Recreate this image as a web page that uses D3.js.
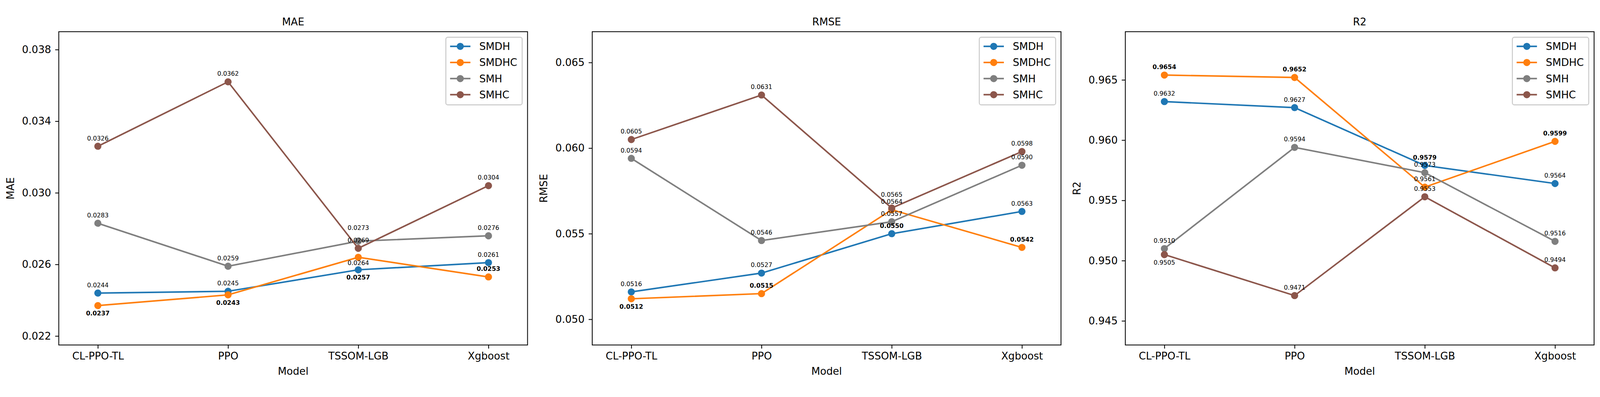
<!DOCTYPE html>
<html>
<head>
  <script src="https://d3js.org/d3.v7.min.js"></script>
  <style>
    html, body { margin: 0; padding: 0; background: #fff; overflow: hidden; }
    svg { display: block; width: 100vw; height: 100vh; }
    text { font-family: "DejaVu Sans", sans-serif; }
  </style>
</head>
<body>

<svg viewBox="0 0 4328 1017" preserveAspectRatio="xMidYMid meet"></svg>

<script>
  const models = ['CL-PPO-TL', 'PPO', 'TSSOM-LGB', 'Xgboost'];
  const seriesNames = ['SMDH', 'SMDHC', 'SMH', 'SMHC'];
  const colors = ['#1f77b4', '#ff7f0e', '#7f7f7f', '#8c564b'];

  // values per series (same order as seriesNames), per model
  const maeValues = [
    [0.0244, 0.0245, 0.0257, 0.0261],
    [0.0237, 0.0243, 0.0264, 0.0253],
    [0.0283, 0.0259, 0.0273, 0.0276],
    [0.0326, 0.0362, 0.0269, 0.0304]
  ];
  const rmseValues = [
    [0.0516, 0.0527, 0.0550, 0.0563],
    [0.0512, 0.0515, 0.0564, 0.0542],
    [0.0594, 0.0546, 0.0557, 0.0590],
    [0.0605, 0.0631, 0.0565, 0.0598]
  ];
  const r2Values = [
    [0.9632, 0.9627, 0.9579, 0.9564],
    [0.9654, 0.9652, 0.9561, 0.9599],
    [0.9510, 0.9594, 0.9573, 0.9516],
    [0.9505, 0.9471, 0.9553, 0.9494]
  ];

  const maeTicks = [0.022, 0.026, 0.030, 0.034, 0.038];
  const rmseTicks = [0.050, 0.055, 0.060, 0.065];
  const r2Ticks = [0.945, 0.950, 0.955, 0.960, 0.965];

  const maeDomain = [0.0215, 0.0390];
  const rmseDomain = [0.0485, 0.0668];
  const r2Domain = [0.9430, 0.9690];

  // where each value label sits: a = above, b = below, c = just below, A = higher above
  const maeSides = [
    ['a', 'a', 'b', 'a'],
    ['b', 'b', 'c', 'a'],
    ['a', 'a', 'A', 'a'],
    ['a', 'a', 'a', 'a']
  ];
  const rmseSides = [
    ['a', 'a', 'a', 'a'],
    ['b', 'a', 'a', 'a'],
    ['a', 'a', 'a', 'a'],
    ['a', 'a', 'A', 'a']
  ];
  const r2Sides = [
    ['a', 'a', 'a', 'a'],
    ['a', 'a', 'a', 'a'],
    ['a', 'a', 'a', 'a'],
    ['b', 'a', 'a', 'a']
  ];
  const sideOffset = { a: -22, b: 20.7, c: 15.6, A: -36.5 };

  const panels = [
    { title: 'MAE', values: maeValues, ticks: maeTicks, domain: maeDomain, sides: maeSides, best: d3.min, left: 159 },
    { title: 'RMSE', values: rmseValues, ticks: rmseTicks, domain: rmseDomain, sides: rmseSides, best: d3.min, left: 1602 },
    { title: 'R2', values: r2Values, ticks: r2Ticks, domain: r2Domain, sides: r2Sides, best: d3.max, left: 3044 }
  ];

  const svg = d3.select('svg');
  const plotTop = 57, plotBottom = 905, plotW = 1268;
  const fs = 27.6, small = 16.6;

  panels.forEach(p => {
    const x0 = p.left, x1 = p.left + plotW;

    const xScale = d3.scalePoint()
      .domain(models)
      .range([x0, x1])
      .padding(0.3);

    const yScale = d3.scaleLinear()
      .domain(p.domain)
      .range([plotBottom, plotTop]);

    const g = svg.append('g');

    // y axis
    const ya = g.append('g')
      .attr('transform', `translate(${x0},0)`)
      .call(d3.axisLeft(yScale).tickValues(p.ticks).tickFormat(d3.format('.3f'))
        .tickSize(9.7).tickPadding(11));
    ya.select('.domain').remove();
    ya.selectAll('line').attr('stroke', '#000').attr('stroke-width', 2.2);
    ya.selectAll('text').attr('font-size', fs).attr('fill', '#000')
      .style('font-family', '"DejaVu Sans", sans-serif');

    // x axis
    const xa = g.append('g')
      .attr('transform', `translate(0,${plotBottom})`)
      .call(d3.axisBottom(xScale).tickSize(9.7).tickPadding(9.7));
    xa.select('.domain').remove();
    xa.selectAll('line').attr('stroke', '#000').attr('stroke-width', 2.2);
    xa.selectAll('text').attr('font-size', fs).attr('fill', '#000')
      .style('font-family', '"DejaVu Sans", sans-serif');

    // lines + markers
    p.values.forEach((vals, si) => {
      const line = d3.line()
        .x((d, i) => xScale(models[i]))
        .y(d => yScale(d));

      g.append('path')
        .datum(vals)
        .attr('d', line)
        .attr('fill', 'none')
        .attr('stroke', colors[si])
        .attr('stroke-width', 4.14);

      g.selectAll(null)
        .data(vals)
        .enter().append('circle')
        .attr('cx', (d, i) => xScale(models[i]))
        .attr('cy', d => yScale(d))
        .attr('r', 8.28)
        .attr('fill', colors[si])
        .attr('stroke', colors[si])
        .attr('stroke-width', 2.76);
    });

    // value labels, best per model in bold
    p.values.forEach((vals, si) => {
      g.selectAll(null)
        .data(vals)
        .enter().append('text')
        .attr('x', (d, i) => xScale(models[i]))
        .attr('y', (d, i) => yScale(d) + sideOffset[p.sides[si][i]] + 6)
        .attr('text-anchor', 'middle')
        .attr('font-size', small)
        .attr('font-weight', (d, i) => d === p.best(p.values, v => v[i]) ? 'bold' : 'normal')
        .attr('fill', '#000')
        .text(d => d.toFixed(4));
    });

    // frame
    g.append('rect')
      .attr('x', x0).attr('y', plotTop)
      .attr('width', plotW).attr('height', plotBottom - plotTop)
      .attr('fill', 'none')
      .attr('stroke', '#000')
      .attr('stroke-width', 2.2);

    // title and axis labels
    g.append('text')
      .attr('x', (x0 + x1) / 2).attr('y', 40)
      .attr('text-anchor', 'middle')
      .attr('font-size', fs)
      .text(p.title);

    g.append('text')
      .attr('x', (x0 + x1) / 2).attr('y', 986)
      .attr('text-anchor', 'middle')
      .attr('font-size', fs)
      .text('Model');

    g.append('text')
      .attr('transform', `translate(${x0 - 131},${(plotTop + plotBottom) / 2}) rotate(-90)`)
      .attr('text-anchor', 'middle')
      .attr('dy', '0.35em')
      .attr('font-size', fs)
      .text(p.title);

    // legend
    const lg = g.append('g').attr('transform', `translate(${x1},${plotTop})`);
    lg.append('rect')
      .attr('x', -221).attr('y', 15)
      .attr('width', 206.5).attr('height', 183)
      .attr('rx', 5.5)
      .attr('fill', 'rgba(255,255,255,0.8)')
      .attr('stroke', '#cccccc')
      .attr('stroke-width', 2.76);

    const item = lg.selectAll('.legend')
      .data(seriesNames)
      .enter().append('g')
      .attr('class', 'legend')
      .attr('transform', (d, i) => `translate(0,${39.7 + i * 43.6})`);

    item.append('line')
      .attr('x1', -209.5).attr('x2', -154.5)
      .attr('stroke', (d, i) => colors[i])
      .attr('stroke-width', 4.14);

    item.append('circle')
      .attr('cx', -182).attr('r', 8.28)
      .attr('fill', (d, i) => colors[i])
      .attr('stroke', (d, i) => colors[i])
      .attr('stroke-width', 2.76);

    item.append('text')
      .attr('x', -130.5)
      .attr('dy', '0.36em')
      .attr('font-size', fs)
      .text(d => d);
  });
</script>

</body>
</html>
